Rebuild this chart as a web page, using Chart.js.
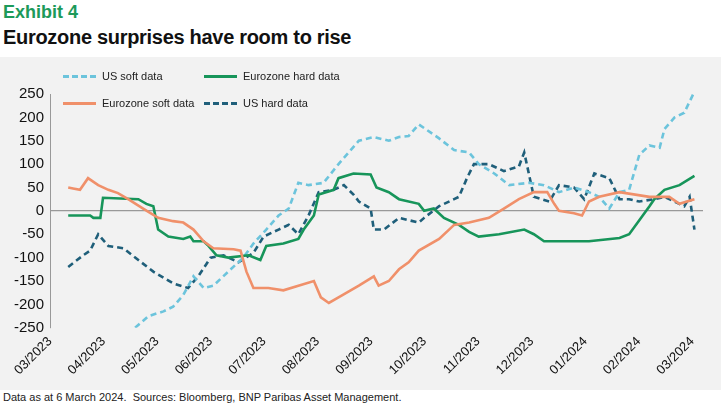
<!DOCTYPE html>
<html><head><meta charset="utf-8">
<script src="https://cdn.jsdelivr.net/npm/chart.js@4"></script>
<style>
body{margin:0;background:#fff;font-family:"Liberation Sans",Arial,sans-serif;width:725px;height:409px;overflow:hidden;position:relative}
#t1{position:absolute;left:3px;top:2px;font-size:18px;font-weight:bold;color:#1d9a5a}
#t2{position:absolute;left:3px;top:26px;font-size:20px;font-weight:bold;color:#111;letter-spacing:-0.3px}
#panel{position:absolute;left:0;top:57px;width:721px;height:333px;background:#f2f2f2}
#foot{position:absolute;left:3px;top:391px;font-size:11px;color:#222}
.lg{position:absolute;font-size:11px;color:#222;display:flex;align-items:center}
.lg span.s{display:inline-block;width:33px;height:0;margin-right:6px}
</style></head><body>
<div id="t1">Exhibit 4</div>
<div id="t2">Eurozone surprises have room to rise</div>
<div id="panel"><canvas id="c" width="721" height="333"></canvas></div>
<div class="lg" style="left:63px;top:70px"><span class="s" style="border-top:3px dashed #6cc4dc"></span>US soft data</div>
<div class="lg" style="left:204px;top:70px"><span class="s" style="border-top:3px solid #17955a"></span>Eurozone hard data</div>
<div class="lg" style="left:63px;top:97px"><span class="s" style="border-top:3px solid #f0906a"></span>Eurozone soft data</div>
<div class="lg" style="left:204px;top:97px"><span class="s" style="border-top:3px dashed #1f5f7a"></span>US hard data</div>
<div id="foot">Data as at 6 March 2024.&nbsp; Sources: Bloomberg, BNP Paribas Asset Management.</div>
<script>
const monthLabels=["03/2023","04/2023","05/2023","06/2023","07/2023","08/2023","09/2023","10/2023","11/2023","12/2023","01/2024","02/2024","03/2024"];
const yTicks=[250,200,150,100,50,0,-50,-100,-150,-200,-250];
const ezHardX=[0.34,0.75,0.81,0.94,0.99,1.65,1.80,1.93,2.02,2.21,2.49,2.62,2.68,2.87,2.96,3.11,3.33,3.71,3.93,4.04,4.36,4.64,4.74,4.93,5.02,5.30,5.39,5.67,5.99,6.10,6.33,6.52,6.89,6.99,7.17,7.36,7.64,7.83,8.01,8.39,8.86,9.04,9.23,9.70,10.07,10.64,10.82,11.01,11.20,11.29,11.48,11.76,12.04];
const ezHard=[-10,-10,-15,-15,28,25,15,10,-40,-55,-60,-55,-65,-65,-75,-95,-100,-95,-105,-75,-70,-60,-40,-10,35,45,70,80,78,50,40,25,15,0,5,-15,-30,-45,-55,-50,-40,-50,-65,-65,-65,-58,-50,-20,10,25,45,55,75];
const ezSoftX=[0.34,0.43,0.56,0.71,0.90,1.09,1.27,1.46,1.74,2.02,2.30,2.49,2.68,2.87,3.05,3.43,3.56,3.67,3.80,4.08,4.36,4.64,4.93,5.06,5.21,5.39,5.77,6.05,6.14,6.33,6.52,6.70,6.89,7.27,7.55,7.83,8.20,8.48,8.76,9.04,9.29,9.42,9.51,9.79,9.94,10.07,10.26,10.64,11.20,11.57,11.76,12.04];
const ezSoft=[50,48,45,70,55,45,38,25,5,-15,-22,-25,-40,-65,-80,-82,-85,-130,-165,-165,-170,-160,-150,-185,-197,-185,-160,-140,-160,-150,-125,-110,-85,-60,-30,-25,-15,5,25,40,40,15,0,-5,-10,20,30,40,30,30,15,25];
const usSoftX=[1.59,1.84,2.12,2.30,2.49,2.68,2.87,3.05,3.33,3.61,3.80,4.04,4.27,4.46,4.64,4.83,5.11,5.39,5.58,5.77,6.05,6.33,6.52,6.70,6.89,7.27,7.55,7.83,8.01,8.30,8.58,8.95,9.23,9.51,9.79,10.07,10.26,10.45,10.64,10.82,11.01,11.20,11.39,11.48,11.67,11.85,12.04];
const usSoft=[-250,-225,-215,-205,-180,-140,-165,-160,-130,-100,-70,-40,-10,5,60,55,60,100,125,150,158,150,158,160,185,155,130,125,100,80,55,60,55,40,50,40,30,5,40,45,120,140,135,175,200,210,255];
const usHardX=[0.34,0.62,0.75,0.90,1.09,1.37,1.65,1.93,2.30,2.58,2.77,3.00,3.24,3.52,3.80,3.99,4.27,4.46,4.64,4.83,5.02,5.30,5.49,5.67,5.77,5.99,6.05,6.24,6.52,6.89,6.99,7.27,7.55,7.64,7.79,7.92,8.20,8.48,8.76,8.86,9.04,9.33,9.51,9.79,9.98,10.17,10.45,10.64,10.82,11.01,11.29,11.48,11.67,11.85,11.95,12.04];
const usHard=[-120,-95,-85,-50,-75,-80,-105,-130,-155,-165,-140,-100,-95,-110,-90,-55,-40,-30,-50,-10,40,45,55,35,20,5,-40,-40,-15,-25,-15,10,25,30,70,100,100,85,95,125,30,20,55,50,25,80,70,25,25,20,25,30,20,10,30,-40];
function pts(xs,ys){return xs.map((x,i)=>({x:x,y:ys[i]}));}
const ds=(label,xs,ys,color,dash)=>({label,data:pts(xs,ys),borderColor:color,borderWidth:2.6,borderDash:dash,pointRadius:0,tension:0,fill:false});
new Chart(document.getElementById('c'),{type:'line',
data:{datasets:[
ds('Eurozone soft data',ezSoftX,ezSoft,'#f0906a',[]),
ds('Eurozone hard data',ezHardX,ezHard,'#17955a',[]),
ds('US soft data',usSoftX,usSoft,'#6cc4dc',[6,4]),
ds('US hard data',usHardX,usHard,'#1f5f7a',[6,4])]},
options:{responsive:false,animation:false,
layout:{padding:{top:37,right:18,left:8,bottom:6}},
plugins:{legend:{display:false},tooltip:{enabled:false}},
scales:{
x:{type:'linear',min:0,max:12.2,grid:{display:false,drawTicks:false},border:{display:false},
 afterBuildTicks:a=>{a.ticks=monthLabels.map((_,i)=>({value:i}));},
 ticks:{minRotation:45,maxRotation:45,autoSkip:false,padding:6,color:'#111',font:{size:13},callback:v=>monthLabels[v]}},
y:{min:-250,max:250,afterBuildTicks:a=>{a.ticks=yTicks.map(v=>({value:v}));},
 border:{display:true,color:'#999'},
 grid:{color:c=>c.tick&&c.tick.value===0?'#999':'transparent',drawTicks:false,lineWidth:1.2},
 ticks:{padding:6,color:'#111',font:{size:15}}}
}}});
</script></body></html>
